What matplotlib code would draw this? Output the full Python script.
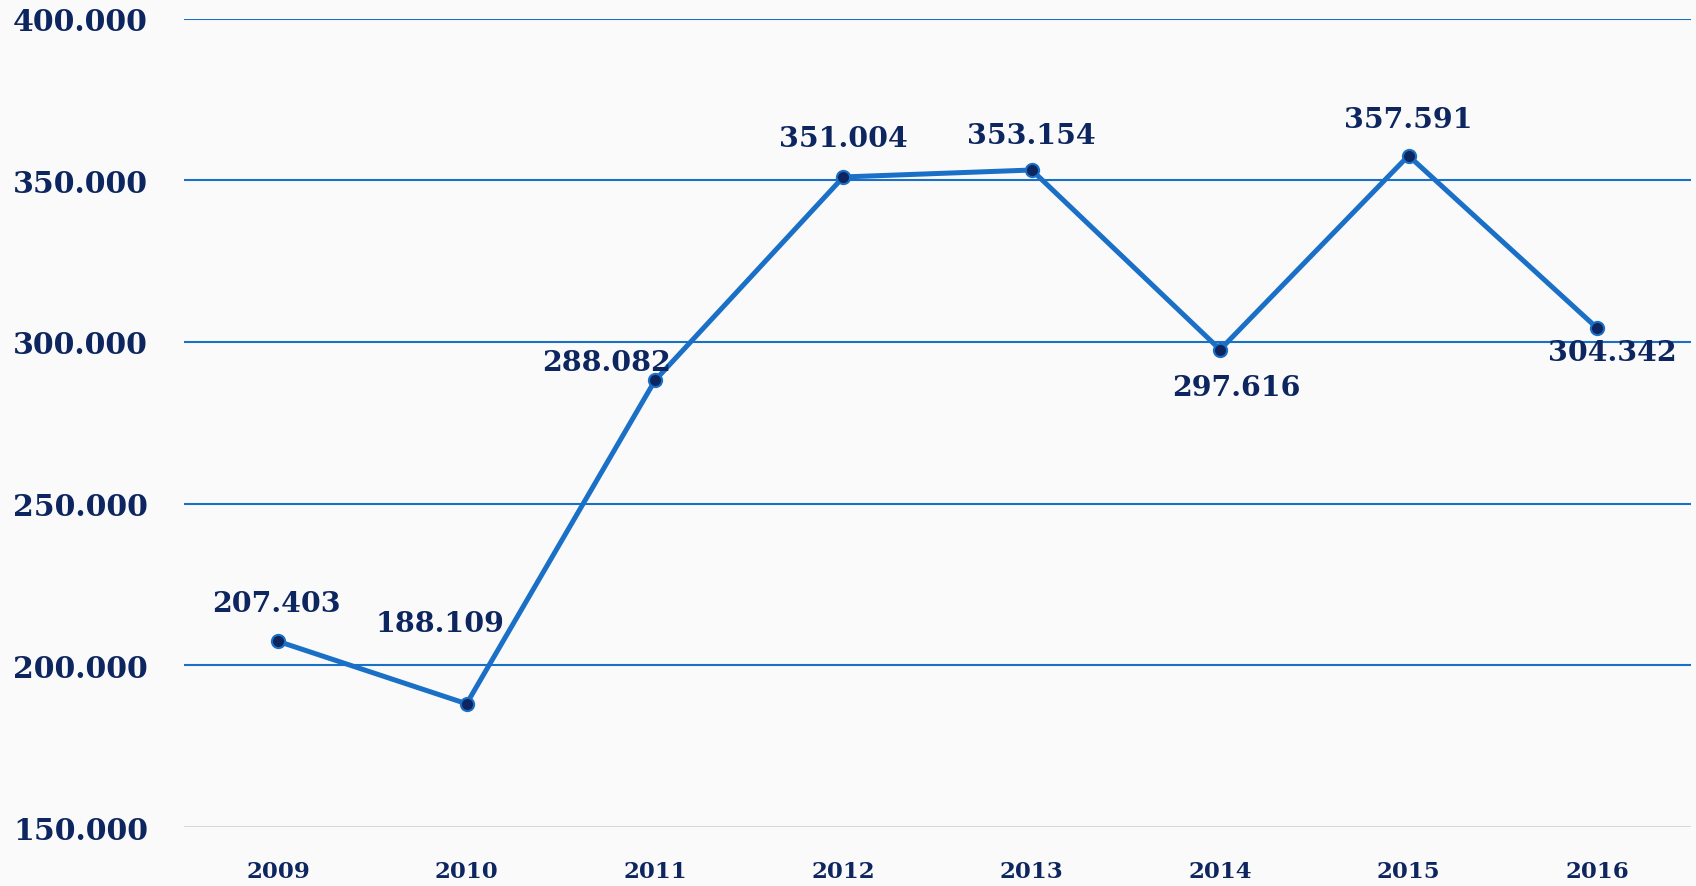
import matplotlib
matplotlib.use("Agg")
import matplotlib.pyplot as plt

years = ["2009", "2010", "2011", "2012", "2013", "2014", "2015", "2016"]
values = [207403, 188109, 288082, 351004, 353154, 297616, 357591, 304342]
value_labels = ["207.403", "188.109", "288.082", "351.004", "353.154", "297.616", "357.591", "304.342"]
yticks = [150000, 200000, 250000, 300000, 350000, 400000]
ytick_labels = ["150.000", "200.000", "250.000", "300.000", "350.000", "400.000"]

# label offsets in pixels (dx, dy)
offsets = [(-2, 38), (-27, 80), (-48, 18), (0, 38), (0, 35), (16, -38), (0, 36), (15, -25)]

navy = "#0d2660"
blue = "#1a6fc6"
bg = "#fafafa"

plt.rcParams['font.family'] = ['DejaVu Serif']

fig = plt.figure(figsize=(16.96, 8.87), dpi=100, facecolor=bg)
ax = fig.add_axes([0.1085, 0.0665, 0.8886, 0.9115], facecolor=bg)

x = list(range(len(years)))
ax.set_xlim(-0.5, len(years) - 0.5)
ax.set_ylim(150000, 400000)

for yv in yticks[1:]:
    ax.axhline(yv, color=blue, lw=1.5, zorder=1)
ax.axhline(150000, color="#d4d4d4", lw=2, zorder=1)

ax.plot(x, values, color=blue, lw=3.6, zorder=3, solid_capstyle='round',
        marker='o', markersize=9.5, markerfacecolor=navy, markeredgecolor=blue,
        markeredgewidth=1.5)

for xi, v, lab, (dx, dy) in zip(x, values, value_labels, offsets):
    ax.annotate(lab, (xi, v), xytext=(dx, dy), textcoords='offset pixels',
                ha='center', va='center', fontsize=20.5, fontweight='bold',
                color=navy, zorder=4)

ax.set_yticks(yticks)
ax.set_yticklabels(ytick_labels)
ax.set_xticks(x)
ax.set_xticklabels(years)
ax.tick_params(axis='y', length=0, pad=26, labelsize=21.5, labelcolor=navy)
ax.tick_params(axis='x', length=0, pad=24, labelsize=16.5, labelcolor=navy)
for lab in ax.get_yticklabels() + ax.get_xticklabels():
    lab.set_fontweight('bold')
for s in ax.spines.values():
    s.set_visible(False)

fig.savefig("out.png", dpi=100, facecolor=bg)
